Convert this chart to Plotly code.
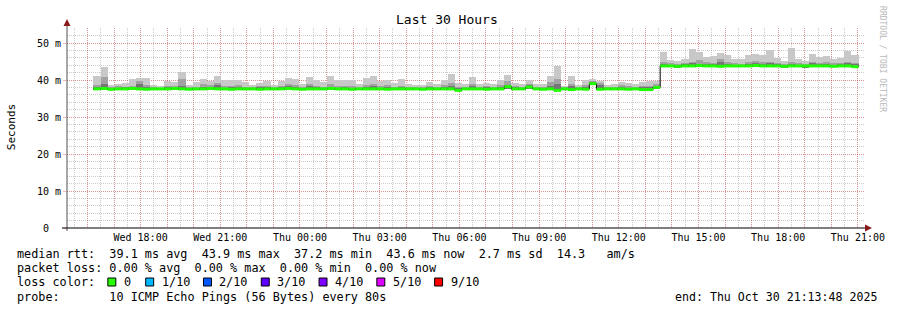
import pandas as pd
import plotly.graph_objects as go

# ---------------- data (milliseconds) ----------------
bar_start = "2025-10-29 16:13:30"
bar_seconds = 960
x_start = "2025-10-29 15:13:48"
x_end = "2025-10-30 21:13:48"

median_ms = [
    37.6, 37.7, 37.5, 37.6, 37.6, 37.7, 37.6, 37.5, 37.6, 37.6,
    37.6, 37.7, 37.6, 37.5, 37.6, 37.6, 37.7, 37.6, 37.6, 37.5,
    37.6, 37.6, 37.6, 37.5, 37.6, 37.6, 37.6, 37.7, 37.6, 37.5,
    37.6, 37.6, 37.6, 37.7, 37.6, 37.6, 37.5, 37.6, 37.6, 37.6,
    37.6, 37.5, 37.6, 37.6, 37.6, 37.6, 37.5, 37.6, 37.6, 37.6,
    37.6, 37.2, 37.6, 37.6, 37.6, 37.5, 37.6, 37.6, 38.2, 37.6,
    37.6, 38.1, 37.6, 37.5, 37.6, 37.2, 37.6, 37.4, 37.6, 37.5,
    39.0, 37.5, 37.6, 37.6, 37.6, 37.5, 37.6, 37.4, 37.4, 38.0,
    43.8, 43.8, 43.7, 43.8, 43.8, 43.9, 43.8, 43.8, 43.7, 43.8,
    43.8, 43.8, 43.8, 43.9, 43.8, 43.8, 43.8, 43.7, 43.8, 43.8,
    43.8, 43.8, 43.8, 43.8, 43.7, 43.8, 43.8, 43.6,
]

min_ms = [
    37.3, 37.4, 37.3, 37.3, 37.4, 37.3, 37.3, 37.2, 37.3, 37.3,
    37.3, 37.4, 37.3, 37.2, 37.3, 37.3, 37.4, 37.3, 37.3, 37.2,
    37.3, 37.3, 37.3, 37.2, 37.3, 37.3, 37.3, 37.4, 37.3, 37.2,
    37.3, 37.3, 37.3, 37.4, 37.3, 37.3, 37.2, 37.3, 37.3, 37.3,
    37.3, 37.2, 37.3, 37.3, 37.3, 37.3, 37.2, 37.3, 37.3, 37.3,
    37.3, 37.0, 37.3, 37.3, 37.3, 37.2, 37.3, 37.3, 37.6, 37.3,
    37.3, 37.6, 37.3, 37.2, 37.3, 37.0, 37.3, 37.2, 37.3, 37.2,
    38.6, 37.2, 37.3, 37.3, 37.3, 37.2, 37.3, 37.2, 37.2, 37.6,
    43.5, 43.5, 43.5, 43.5, 43.5, 43.6, 43.5, 43.5, 43.5, 43.5,
    43.5, 43.5, 43.5, 43.6, 43.5, 43.5, 43.5, 43.5, 43.5, 43.5,
    43.5, 43.5, 43.5, 43.5, 43.5, 43.5, 43.5, 43.4,
]

dark_top_ms = [
    38.0, 38.9, 37.8, 37.9, 38.0, 38.1, 38.9, 38.2, 37.8, 37.8,
    38.0, 38.1, 38.4, 37.8, 37.9, 38.2, 38.1, 38.6, 37.9, 38.0,
    38.1, 37.9, 37.8, 38.0, 38.0, 37.8, 38.0, 38.3, 38.1, 37.8,
    38.3, 38.0, 37.9, 38.2, 37.9, 38.0, 37.9, 37.8, 38.2, 38.4,
    37.9, 38.0, 37.9, 38.1, 37.8, 37.8, 37.8, 38.0, 37.9, 38.1,
    38.5, 37.8, 37.8, 38.3, 37.8, 38.0, 37.8, 38.2, 38.6, 38.0,
    37.8, 38.6, 37.8, 37.8, 38.5, 38.9, 37.7, 38.3, 37.8, 38.1,
    39.5, 38.7, 37.8, 37.8, 38.0, 37.9, 37.8, 38.0, 38.0, 38.5,
    44.3, 44.1, 44.0, 44.2, 44.5, 44.4, 44.3, 44.2, 44.9, 44.4,
    44.1, 44.1, 44.4, 44.6, 44.3, 44.5, 44.2, 44.0, 44.4, 44.1,
    44.0, 44.5, 44.3, 44.4, 44.1, 44.2, 44.5, 44.3,
]

mid_top_ms = [
    38.6, 40.9, 38.0, 38.3, 38.2, 38.4, 39.8, 38.6, 38.0, 37.9,
    38.3, 38.5, 40.4, 38.0, 38.2, 38.9, 38.7, 39.3, 38.3, 38.5,
    38.6, 38.2, 38.0, 38.4, 38.5, 38.1, 38.4, 38.9, 38.6, 38.0,
    38.9, 38.4, 38.1, 38.8, 38.3, 38.5, 38.4, 38.1, 38.7, 39.0,
    38.3, 38.6, 38.2, 38.5, 38.1, 38.0, 38.0, 38.4, 38.2, 38.6,
    39.3, 38.2, 38.1, 38.9, 38.1, 38.4, 38.1, 38.7, 39.6, 38.4,
    38.1, 38.8, 38.0, 38.1, 39.5, 40.2, 38.0, 38.9, 38.0, 38.6,
    39.8, 39.3, 38.0, 38.1, 38.6, 38.3, 38.1, 38.3, 38.4, 38.9,
    44.8, 44.5, 44.3, 44.6, 45.0, 45.4, 44.8, 44.6, 45.8, 44.9,
    44.5, 44.4, 44.9, 45.1, 44.8, 45.0, 44.6, 44.3, 44.9, 44.5,
    44.4, 45.0, 44.7, 44.9, 44.5, 44.6, 45.0, 44.7,
]

max_ms = [
    41.1, 43.6, 38.6, 38.9, 39.3, 40.3, 40.5, 40.5, 38.7, 38.4,
    39.8, 39.5, 42.2, 38.6, 39.5, 40.3, 39.8, 41.1, 40.0, 40.0,
    40.0, 39.5, 38.6, 39.3, 39.8, 38.7, 39.7, 40.5, 40.3, 38.9,
    40.8, 40.0, 39.5, 41.1, 40.0, 40.0, 40.0, 38.9, 40.5, 41.1,
    39.7, 40.0, 39.2, 40.3, 38.9, 38.6, 38.6, 39.5, 38.9, 40.0,
    41.6, 39.2, 38.9, 40.8, 38.9, 39.3, 38.9, 40.0, 41.4, 39.3,
    38.9, 40.0, 38.9, 38.9, 41.1, 43.8, 38.4, 41.1, 38.6, 40.0,
    40.3, 39.7, 38.6, 38.9, 39.5, 39.2, 38.9, 39.5, 39.7, 39.7,
    47.6, 45.4, 45.1, 45.7, 48.4, 47.6, 46.2, 46.5, 47.3, 46.8,
    45.7, 45.7, 46.8, 47.0, 46.8, 48.1, 45.9, 45.1, 48.6, 45.7,
    45.1, 47.0, 46.2, 46.5, 45.7, 45.9, 47.8, 46.8,
]

y_tick_vals = [0, 10, 20, 30, 40, 50]
y_tick_text = ["0\u00a0\u00a0", "10 m", "20 m", "30 m", "40 m", "50 m"]

loss_labels = ["0", "1/10", "2/10", "3/10", "4/10", "5/10", "9/10"]
loss_colors = ["#26ff00", "#00b8ff", "#0059ff", "#5e00ff", "#7e00ff", "#dd00ff", "#ff0000"]

stats_line = "median rtt:  39.1 ms avg  43.9 ms max  37.2 ms min  43.6 ms now  2.7 ms sd  14.3   am/s"
loss_line = "packet loss: 0.00 % avg  0.00 % max  0.00 % min  0.00 % now"
probe_line = "probe:       10 ICMP Echo Pings (56 Bytes) every 80s"
end_line = "end: Thu Oct 30 21:13:48 2025"

# ---------------- geometry ----------------
W, H = 897, 310
PL, PR, PT, PB = 67, 867, 28, 228


def px(x):
    return (x - PL) / (PR - PL)


def py(y):
    return (PB - y) / (PB - PT)


MONO = "DejaVu Sans Mono"

n = len(median_ms)
starts = pd.date_range(bar_start, periods=n, freq=f"{bar_seconds}s")
ends = starts + pd.Timedelta(seconds=bar_seconds)
centers = starts + pd.Timedelta(seconds=bar_seconds / 2)
bar_w = bar_seconds * 1000

fig = go.Figure()

for top, col in [(max_ms, "#c8c8c8"), (mid_top_ms, "#a2a2a2"), (dark_top_ms, "#767676")]:
    fig.add_trace(go.Bar(
        x=centers, y=[t - b for t, b in zip(top, min_ms)], base=min_ms,
        width=bar_w, marker=dict(color=col, line=dict(width=0)),
        hoverinfo="skip", showlegend=False,
    ))

# black median step line
fig.add_trace(go.Scatter(
    x=list(starts) + [ends[-1]], y=median_ms + [median_ms[-1]],
    mode="lines", line=dict(color="black", width=1, shape="hv"),
    hoverinfo="skip", showlegend=False,
))

# green median segments (loss 0)
gx, gy = [], []
for s, e, m in zip(starts, ends, median_ms):
    gx += [s, e, None]
    gy += [m, m, None]
fig.add_trace(go.Scatter(
    x=gx, y=gy, mode="lines", line=dict(color="#1eff00", width=3),
    connectgaps=False, hoverinfo="skip", showlegend=False,
))

# ---------------- axes ----------------
hours = pd.date_range("2025-10-29 16:00", "2025-10-30 21:00", freq="1h")
hour_text = [h.strftime("%a %H:%M") if h.hour % 3 == 0 else "" for h in hours]

RED = "rgba(255,0,0,0.27)"
GRAY = "rgba(120,120,120,0.38)"
DOT = "1px,1px"

fig.update_xaxes(
    type="date", range=[x_start, x_end],
    tickmode="array", tickvals=list(hours), ticktext=hour_text,
    showgrid=True, gridcolor=RED, griddash=DOT, gridwidth=1,
    ticks="", showline=False, zeroline=False, ticklabelstandoff=2,
    tickfont=dict(family=MONO, size=10, color="black"),
    minor=dict(tickmode="linear", tick0="2025-10-29 15:30:00", dtick=1800000,
               showgrid=True, gridcolor=GRAY, griddash=DOT, gridwidth=1, ticks=""),
)
fig.update_yaxes(
    range=[0, 200 / 3.7], tickmode="array", tickvals=y_tick_vals, ticktext=y_tick_text,
    showgrid=True, gridcolor=RED, griddash=DOT, gridwidth=1,
    ticks="outside", ticklen=3, tickcolor="rgba(255,0,0,0.3)",
    showline=False, zeroline=False,
    tickfont=dict(family=MONO, size=10, color="black"),
    minor=dict(tickmode="linear", tick0=0, dtick=2,
               showgrid=True, gridcolor=GRAY, griddash=DOT, gridwidth=1, ticks=""),
)

# ---------------- decorations ----------------
shapes = [
    dict(type="line", xref="paper", yref="paper", x0=px(PL), x1=px(PL), y0=py(PB + 3), y1=py(24),
         line=dict(color="#505050", width=1), layer="above"),
    dict(type="line", xref="paper", yref="paper", x0=px(62), x1=px(870), y0=0, y1=0,
         line=dict(color="black", width=1), layer="above"),
    dict(type="path", xref="paper", yref="paper",
         path=f"M {px(63.5)} {py(26)} L {px(70.5)} {py(26)} L {px(67)} {py(19)} Z",
         fillcolor="#8b1a1a", line=dict(width=0), layer="above"),
    dict(type="path", xref="paper", yref="paper",
         path=f"M {px(868)} {py(224.5)} L {px(868)} {py(231.5)} L {px(875)} {py(228)} Z",
         fillcolor="#8b1a1a", line=dict(width=0), layer="above"),
]

annotations = [
    dict(text="Last 30 Hours", x=px(448), y=py(19), xref="paper", yref="paper",
         showarrow=False, xanchor="center", yanchor="middle",
         font=dict(family=MONO, size=13, color="black")),
    dict(text="Seconds", x=px(11), y=py(127), xref="paper", yref="paper",
         showarrow=False, xanchor="center", yanchor="middle", textangle=-90,
         font=dict(family=MONO, size=11, color="black")),
    dict(text="RRDTOOL / TOBI OETIKER", x=px(886), y=py(59), xref="paper", yref="paper",
         showarrow=False, xanchor="center", yanchor="middle", textangle=90,
         font=dict(family=MONO, size=8, color="#b8b8b8")),
]

for txt, yy in [(stats_line, 254), (loss_line, 268), ("loss color:", 282), (probe_line, 296.5)]:
    annotations.append(dict(text=txt.replace(" ", "\u00a0"), x=px(15), y=py(yy), xref="paper", yref="paper",
                            showarrow=False, xanchor="left", yanchor="middle",
                            font=dict(family=MONO, size=11.8, color="black")))
annotations.append(dict(text=end_line.replace(" ", "\u00a0"), x=px(882), y=py(296.5), xref="paper", yref="paper",
                        showarrow=False, xanchor="right", yanchor="middle",
                        font=dict(family=MONO, size=11.6, color="black")))

sq_left = [108, 146, 204, 262, 320, 378, 436]
for lab, col, sx in zip(loss_labels, loss_colors, sq_left):
    shapes.append(dict(type="rect", xref="paper", yref="paper",
                       x0=px(sx), x1=px(sx + 8), y0=py(286), y1=py(278),
                       fillcolor=col, line=dict(color="black", width=1), layer="above"))
    annotations.append(dict(text=lab, x=px(sx + 14), y=py(282), xref="paper", yref="paper",
                            showarrow=False, xanchor="left", yanchor="middle",
                            font=dict(family=MONO, size=11.8, color="black")))

fig.update_layout(
    width=W, height=H, autosize=False,
    margin=dict(l=PL, r=W - PR, t=PT, b=H - PB, pad=0),
    paper_bgcolor="white", plot_bgcolor="white",
    barmode="overlay", bargap=0, showlegend=False,
    shapes=shapes, annotations=annotations,
)

fig.write_html("out.html")
